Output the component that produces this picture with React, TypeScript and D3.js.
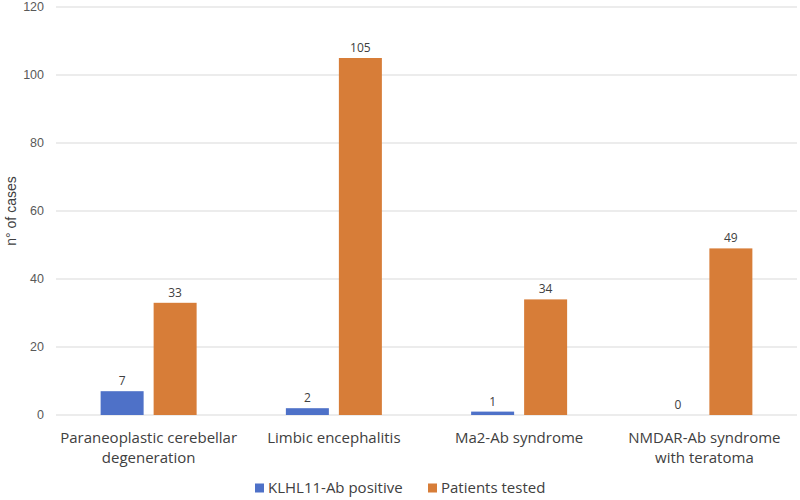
import React, { useEffect, useRef } from "react";
import * as d3 from "d3";

const categories = [
  ["Paraneoplastic cerebellar", "degeneration"],
  ["Limbic encephalitis"],
  ["Ma2-Ab syndrome"],
  ["NMDAR-Ab syndrome", "with teratoma"],
];
const seriesNames = ["KLHL11-Ab positive", "Patients tested"];
const positive = [7, 2, 1, 0];
const tested = [33, 105, 34, 49];
const yTicks = [0, 20, 40, 60, 80, 100, 120];
const colors = ["#4E71C8", "#D77D38"];

const App = () => {
  const svgRef = useRef<SVGSVGElement>(null);

  useEffect(() => {
    const width = 800;
    const height = 500;
    const svg = d3.select(svgRef.current);
    svg.selectAll("*").remove();
    svg.attr("width", width).attr("height", height);

    const left = 56;
    const right = 797;
    const top = 7;
    const bottom = 415;

    const x = d3
      .scaleBand<number>()
      .domain(d3.range(categories.length))
      .range([left, right]);
    const y = d3.scaleLinear().domain([0, 120]).range([bottom, top]);

    const barW = 43;
    const gap = 10;

    // grid
    svg
      .append("g")
      .selectAll("line")
      .data(yTicks)
      .enter()
      .append("line")
      .attr("x1", left)
      .attr("x2", right)
      .attr("y1", (d) => y(d))
      .attr("y2", (d) => y(d))
      .attr("stroke", "#d9d9d9")
      .attr("stroke-width", 1);

    svg
      .append("g")
      .selectAll("text")
      .data(yTicks)
      .enter()
      .append("text")
      .attr("x", 44)
      .attr("y", (d) => y(d))
      .attr("dy", "0.35em")
      .attr("text-anchor", "end")
      .attr("font-family", "Liberation Sans, Arial, sans-serif")
      .attr("font-size", 12.5)
      .attr("fill", "#595959")
      .text((d) => d);

    svg
      .append("text")
      .attr("transform", `translate(16,${(top + bottom) / 2}) rotate(-90)`)
      .attr("text-anchor", "middle")
      .attr("font-family", "Liberation Sans, Arial, sans-serif")
      .attr("font-size", 14)
      .attr("fill", "#404040")
      .text("n° of cases");

    const series = [positive, tested];
    series.forEach((vals, si) => {
      const offset = si === 0 ? -gap / 2 - barW : gap / 2;
      const g = svg.append("g");
      g.selectAll("rect")
        .data(vals)
        .enter()
        .append("rect")
        .attr("x", (_, i) => x(i)! + x.bandwidth() / 2 + offset)
        .attr("y", (d) => y(d))
        .attr("width", barW)
        .attr("height", (d) => y(0) - y(d))
        .attr("fill", colors[si]);
      g.selectAll("text")
        .data(vals)
        .enter()
        .append("text")
        .attr("x", (_, i) => x(i)! + x.bandwidth() / 2 + offset + barW / 2)
        .attr("y", (d) => y(d) - 6)
        .attr("text-anchor", "middle")
        .attr("font-family", "Open Sans, sans-serif")
        .attr("font-size", 12)
        .attr("fill", "#404040")
        .text((d) => d);
    });

    // category labels
    const cat = svg.append("g");
    categories.forEach((lines, i) => {
      lines.forEach((ln, li) => {
        cat
          .append("text")
          .attr("x", x(i)! + x.bandwidth() / 2)
          .attr("y", 443 + li * 20)
          .attr("text-anchor", "middle")
          .attr("font-family", "Open Sans, sans-serif")
          .attr("font-size", 15)
          .attr("fill", "#404040")
          .text(ln);
      });
    });

    // legend
    const legendX = [255, 428];
    seriesNames.forEach((name, i) => {
      const lg = svg.append("g").attr("transform", `translate(${legendX[i]},488)`);
      lg.append("rect")
        .attr("x", 0)
        .attr("y", -4.5)
        .attr("width", 9)
        .attr("height", 9)
        .attr("fill", colors[i]);
      lg.append("text")
        .attr("x", 13)
        .attr("y", 0)
        .attr("dy", "0.35em")
        .attr("font-family", "Open Sans, sans-serif")
        .attr("font-size", 15)
        .attr("fill", "#404040")
        .text(name);
    });
  }, []);

  return <svg ref={svgRef} style={{ position: "absolute", left: 0, top: 0 }}></svg>;
};

export default App;
